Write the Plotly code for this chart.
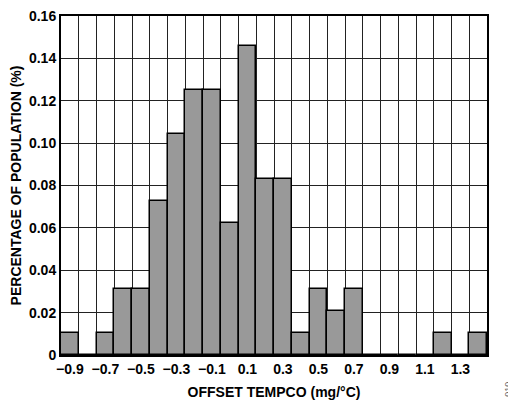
import plotly.graph_objects as go

bin_centers = [-0.9, -0.8, -0.7, -0.6, -0.5, -0.4, -0.3, -0.2, -0.1, 0.0, 0.1, 0.2,
               0.3, 0.4, 0.5, 0.6, 0.7, 0.8, 0.9, 1.0, 1.1, 1.2, 1.3, 1.4]
percentages = [0.0104, 0.0, 0.0104, 0.0312, 0.0312, 0.0729, 0.1042, 0.125, 0.125, 0.0625,
               0.1458, 0.0833, 0.0833, 0.0104, 0.0312, 0.0208, 0.0312, 0.0, 0.0, 0.0,
               0.0, 0.0104, 0.0, 0.0104]
x_tick_vals = [-0.9, -0.7, -0.5, -0.3, -0.1, 0.1, 0.3, 0.5, 0.7, 0.9, 1.1, 1.3]
x_tick_text = ["\u22120.9", "\u22120.7", "\u22120.5", "\u22120.3", "\u22120.1", "0.1",
               "0.3", "0.5", "0.7", "0.9", "1.1", "1.3"]
y_tick_vals = [0, 0.02, 0.04, 0.06, 0.08, 0.10, 0.12, 0.14, 0.16]
y_tick_text = ["0", "0.02", "0.04", "0.06", "0.08", "0.10", "0.12", "0.14", "0.16"]

FONT = "Arial, Liberation Sans, Helvetica, sans-serif"

fig = go.Figure()
fig.add_trace(go.Bar(
    x=bin_centers, y=percentages, width=0.1,
    marker=dict(color="#999999", line=dict(color="#000000", width=1.5)),
    hoverinfo="skip",
))

fig.update_layout(
    width=508, height=393,
    margin=dict(l=53, r=29, t=8, b=46),
    paper_bgcolor="white", plot_bgcolor="white",
    showlegend=False,
    font=dict(family=FONT, size=14, color="#000000"),
    bargap=0,
)
fig.update_xaxes(
    range=[-0.95, 1.45], automargin=False,
    tickvals=x_tick_vals, ticktext=x_tick_text,
    tickfont=dict(family=FONT, size=14, weight="bold", color="#000000"),
    ticklabeloverflow="allow",
    showgrid=False, ticks="", ticklen=0,
    minor=dict(tick0=-0.95, dtick=0.1, showgrid=True, gridcolor="#222222", gridwidth=1, ticks=""),
    showline=True, linecolor="#000000", linewidth=2, mirror=True,
    zeroline=False,
    title=dict(text="OFFSET TEMPCO (mg/\u00b0C)", font=dict(family=FONT, size=14, weight="bold"), standoff=11),
)
fig.update_yaxes(
    range=[0, 0.16], automargin=False,
    tickvals=y_tick_vals, ticktext=y_tick_text,
    tickfont=dict(family=FONT, size=14, weight="bold", color="#000000"),
    ticklabeloverflow="allow",
    showgrid=True, gridcolor="#222222", gridwidth=1, ticks="",
    showline=True, linecolor="#000000", linewidth=2, mirror=True,
    zeroline=False,
    title=dict(text="PERCENTAGE OF POPULATION (%)", font=dict(family=FONT, size=14, weight="bold"), standoff=6),
)
fig.add_annotation(
    text="010", xref="paper", yref="paper", x=1.049, y=-0.1,
    xanchor="center", yanchor="middle",
    showarrow=False, textangle=-90,
    font=dict(family=FONT, size=9, color="#666666"),
)

fig.write_html("out.html")
